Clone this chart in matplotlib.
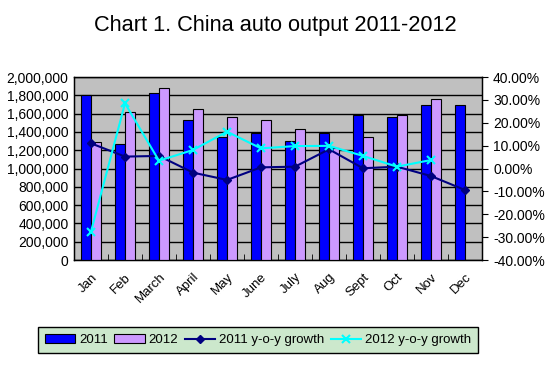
import matplotlib.pyplot as plt
import numpy as np
from matplotlib.ticker import FuncFormatter

plt.rcParams['font.family'] = ['Liberation Sans', 'DejaVu Sans']

months = ['Jan', 'Feb', 'March', 'April', 'May', 'June', 'July', 'Aug', 'Sept', 'Oct', 'Nov', 'Dec']
output_2011 = [1800000, 1264000, 1829000, 1530000, 1340000, 1391000,
               1300000, 1385000, 1590000, 1566000, 1694000, 1694000]
output_2012 = [1293000, 1614000, 1880000, 1647000, 1566000, 1530000,
               1432000, 1225000, 1348000, 1585000, 1756000]
growth_2011 = [11.0, 5.2, 5.5, -1.8, -5.0, 0.5, 0.8, 8.4, 0.1, 0.8, -3.3, -9.4]
growth_2012 = [-27.6, 28.5, 3.4, 8.1, 16.1, 8.8, 9.8, 9.9, 5.5, 0.8, 3.7]

fig = plt.figure(figsize=(5.5, 3.67), dpi=100)
ax = fig.add_axes([74 / 550, 1 - 260 / 367, 408 / 550, 183 / 367])
ax.set_facecolor('#C0C0C0')

x = np.arange(len(months))
w = 0.29
ax.bar(x[:len(output_2011)] - w / 2, output_2011, w, color='#0000FF', edgecolor='black',
       linewidth=0.8, label='2011', zorder=3)
ax.bar(x[:len(output_2012)] + w / 2, output_2012, w, color='#CC99FF', edgecolor='black',
       linewidth=0.8, label='2012', zorder=3)

ax.set_xlim(-0.5, 11.5)
ax.set_ylim(0, 2000000)
ax.set_yticks(range(0, 2000001, 200000))
ax.yaxis.set_major_formatter(FuncFormatter(lambda v, p: '{:,.0f}'.format(v)))
ax.grid(axis='y', color='black', linewidth=1.0, zorder=0)
ax.set_axisbelow(True)
ax.set_xticks(x)
ax.set_xticklabels(months, rotation=45, ha='right', rotation_mode='anchor', fontsize=9.5)
ax.set_xticks(np.arange(-0.5, 12, 1), minor=True)
ax.tick_params(axis='x', which='major', length=0, pad=8)
ax.tick_params(axis='x', which='minor', direction='in', length=4, color='black')
ax.tick_params(axis='y', labelsize=10, length=0, pad=4)
for s in ax.spines.values():
    s.set_linewidth(1.0)

ax2 = ax.twinx()
ax2.plot(x[:len(growth_2011)], growth_2011, color='#000080', marker='D', markersize=4,
         linewidth=1.5, label='2011 y-o-y growth', zorder=4)
ax2.plot(x[:len(growth_2012)], growth_2012, color='#00FFFF', marker='x', markersize=6,
         markeredgewidth=1.5, linewidth=1.5, label='2012 y-o-y growth', zorder=5)
ax2.set_ylim(-40, 40)
ax2.set_yticks(range(-40, 41, 10))
ax2.yaxis.set_major_formatter(FuncFormatter(lambda v, p: '%.2f%%' % v))
ax2.tick_params(axis='y', labelsize=10, length=4, direction='out', pad=4)

fig.text(0.5, 1 - 26 / 367, 'Chart 1. China auto output 2011-2012', ha='center', va='center',
         fontsize=15.7)

h1, l1 = ax.get_legend_handles_labels()
h2, l2 = ax2.get_legend_handles_labels()
leg = fig.legend(h1 + h2, l1 + l2, loc='center', bbox_to_anchor=(258 / 550, 1 - 340 / 367),
                 ncol=4, fontsize=9.5, frameon=True, fancybox=False, handlelength=2.3,
                 columnspacing=0.5, handletextpad=0.3, borderpad=0.5)
leg.get_frame().set_facecolor('#CCE8CC')
leg.get_frame().set_edgecolor('black')
leg.get_frame().set_linewidth(1.0)
leg.get_frame().set_alpha(1)

fig.savefig('out.png', dpi=100)
